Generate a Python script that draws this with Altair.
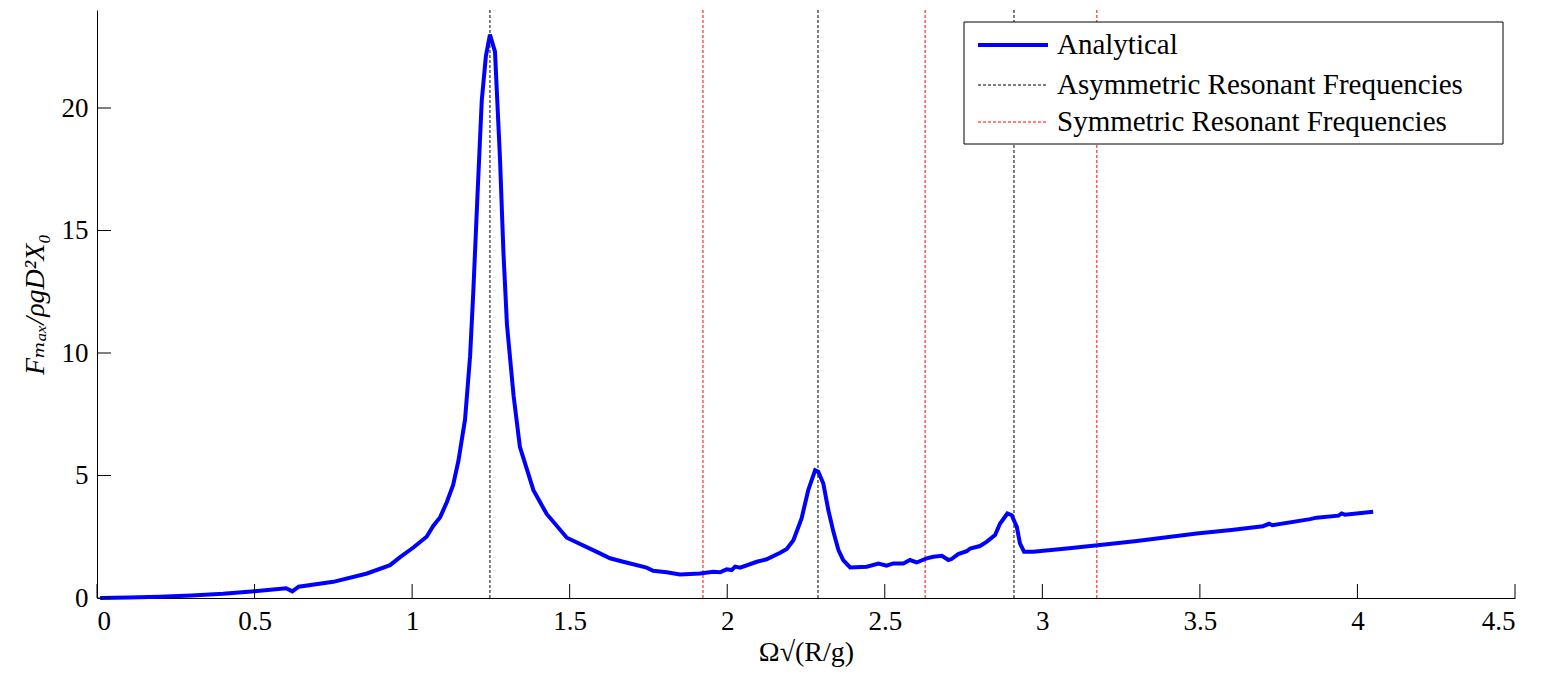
import altair as alt
import pandas as pd

# Curve: Analytical
x_vals = [0.01, 0.1, 0.2, 0.3, 0.4, 0.5, 0.6, 0.62, 0.64, 0.75, 0.857, 0.93, 0.962, 1.004, 1.046,
          1.067, 1.089, 1.110, 1.130, 1.147, 1.168, 1.184, 1.194, 1.207, 1.221, 1.234, 1.247, 1.263,
          1.279, 1.290, 1.301, 1.322, 1.342, 1.385, 1.427, 1.491, 1.596, 1.628, 1.670, 1.744, 1.765,
          1.808, 1.850, 1.914, 1.956, 1.977, 1.998, 2.014, 2.025, 2.041, 2.094, 2.125, 2.168, 2.189,
          2.210, 2.236, 2.257, 2.279, 2.289, 2.305, 2.321, 2.337, 2.353, 2.368, 2.390, 2.443, 2.480,
          2.506, 2.527, 2.559, 2.580, 2.601, 2.633, 2.654, 2.681, 2.702, 2.712, 2.733, 2.760, 2.771,
          2.802, 2.823, 2.850, 2.866, 2.889, 2.903, 2.919, 2.929, 2.942, 2.971, 3.077, 3.183, 3.30,
          3.49, 3.60, 3.70, 3.72, 3.73, 3.85, 3.87, 3.94, 3.95, 3.96, 4.05]
y_vals = [0.0, 0.02, 0.05, 0.10, 0.17, 0.28, 0.40, 0.27, 0.46, 0.66, 1.00, 1.34, 1.67, 2.06, 2.50,
          2.94, 3.30, 3.91, 4.60, 5.60, 7.29, 9.87, 12.44, 16.3, 20.3, 22.1, 23.0, 22.3,
          17.9, 14.05, 11.16, 8.26, 6.17, 4.40, 3.43, 2.46, 1.82, 1.62, 1.48, 1.24, 1.11,
          1.05, 0.96, 1.00, 1.07, 1.05, 1.17, 1.14, 1.28, 1.24, 1.48, 1.58, 1.85, 2.00,
          2.36, 3.25, 4.40, 5.21, 5.15, 4.67, 3.58, 2.70, 1.96, 1.55, 1.25, 1.28, 1.41,
          1.32, 1.41, 1.41, 1.55, 1.45, 1.62, 1.68, 1.72, 1.55, 1.59, 1.79, 1.91, 2.02,
          2.12, 2.29, 2.57, 3.04, 3.45, 3.38, 2.90, 2.23, 1.89, 1.89, 2.02, 2.16, 2.33,
          2.63, 2.78, 2.93, 3.03, 2.97, 3.22, 3.28, 3.36, 3.45, 3.40, 3.52]

asym_freqs = [1.247, 2.288, 2.910]
sym_freqs = [1.923, 2.628, 3.173]

x_ticks = [0, 0.5, 1, 1.5, 2, 2.5, 3, 3.5, 4, 4.5]
y_ticks = [0, 5, 10, 15, 20]

legend_labels = ["Analytical", "Asymmetric Resonant Frequencies", "Symmetric Resonant Frequencies"]
legend_colors = ["#0000ff", "#000000", "#ff0000"]

FONT = "'Liberation Serif', 'Times New Roman', 'DejaVu Serif', serif"
W, H = 1418, 588
xscale = alt.Scale(domain=[0, 4.5], nice=False, zero=False)
yscale = alt.Scale(domain=[0, 24], nice=False, zero=False)

curve_df = pd.DataFrame({"x": x_vals, "y": y_vals})
asym_df = pd.DataFrame({"x": asym_freqs})
sym_df = pd.DataFrame({"x": sym_freqs})
xt_df = pd.DataFrame({"t": x_ticks})
yt_df = pd.DataFrame({"t": y_ticks})

curve = alt.Chart(curve_df).mark_line(color="#0000ff", strokeWidth=4).encode(
    x=alt.X("x:Q", scale=xscale,
            axis=alt.Axis(values=x_ticks, format="~g", title="Ω√(R/g)", tickSize=0,
                          labelPadding=10, titlePadding=4)),
    y=alt.Y("y:Q", scale=yscale,
            axis=alt.Axis(values=y_ticks, title="Fₘₐₓ/ρgD²X₀", tickSize=0,
                          labelPadding=9, titlePadding=12, titleFontStyle="italic")),
)

asym = alt.Chart(asym_df).mark_rule(color="#000000", strokeWidth=1, strokeDash=[3, 2]).encode(
    x=alt.X("x:Q", scale=xscale))
sym = alt.Chart(sym_df).mark_rule(color="#ff0000", strokeWidth=1, strokeDash=[3, 2]).encode(
    x=alt.X("x:Q", scale=xscale))

xtick_rules = alt.Chart(xt_df).mark_rule(color="#000000", strokeWidth=1).encode(
    x=alt.X("t:Q", scale=xscale), y=alt.value(H), y2=alt.value(H - 14))
ytick_rules = alt.Chart(yt_df).mark_rule(color="#000000", strokeWidth=1).encode(
    y=alt.Y("t:Q", scale=yscale), x=alt.value(0), x2=alt.value(14))

one = alt.Data(values=[{}])
box = alt.Chart(one).mark_rect(fill="white", stroke="black", strokeWidth=1).encode(
    x=alt.value(867), x2=alt.value(1406), y=alt.value(12), y2=alt.value(134))

legend_layers = [box]
row_y = [35, 75, 112]
widths = [4, 1, 1]
for lbl, col, ry, sw in zip(legend_labels, legend_colors, row_y, widths):
    if sw > 1:
        ln = alt.Chart(one).mark_rule(color=col, strokeWidth=sw)
    else:
        ln = alt.Chart(one).mark_rule(color=col, strokeWidth=sw, strokeDash=[3, 2])
    legend_layers.append(ln.encode(x=alt.value(881), x2=alt.value(951), y=alt.value(ry)))
    legend_layers.append(
        alt.Chart(one).mark_text(text=lbl, align="left", baseline="middle", font=FONT,
                                 fontSize=29, color="black").encode(
            x=alt.value(960), y=alt.value(ry)))

chart = alt.layer(asym, sym, curve, xtick_rules, ytick_rules, *legend_layers).properties(
    width=W, height=H,
    autosize=alt.AutoSizeParams(type="none"),
    padding={"left": 89, "top": 2, "right": 10, "bottom": 76},
).configure_view(strokeWidth=0).configure_axis(
    grid=False, domainColor="black", domainWidth=1,
    labelFont=FONT, labelFontSize=27, labelColor="black",
    titleFont=FONT, titleFontSize=28, titleColor="black", titleFontWeight="normal",
)

chart.save("out.html", embed_options={"renderer": "svg", "actions": False})
